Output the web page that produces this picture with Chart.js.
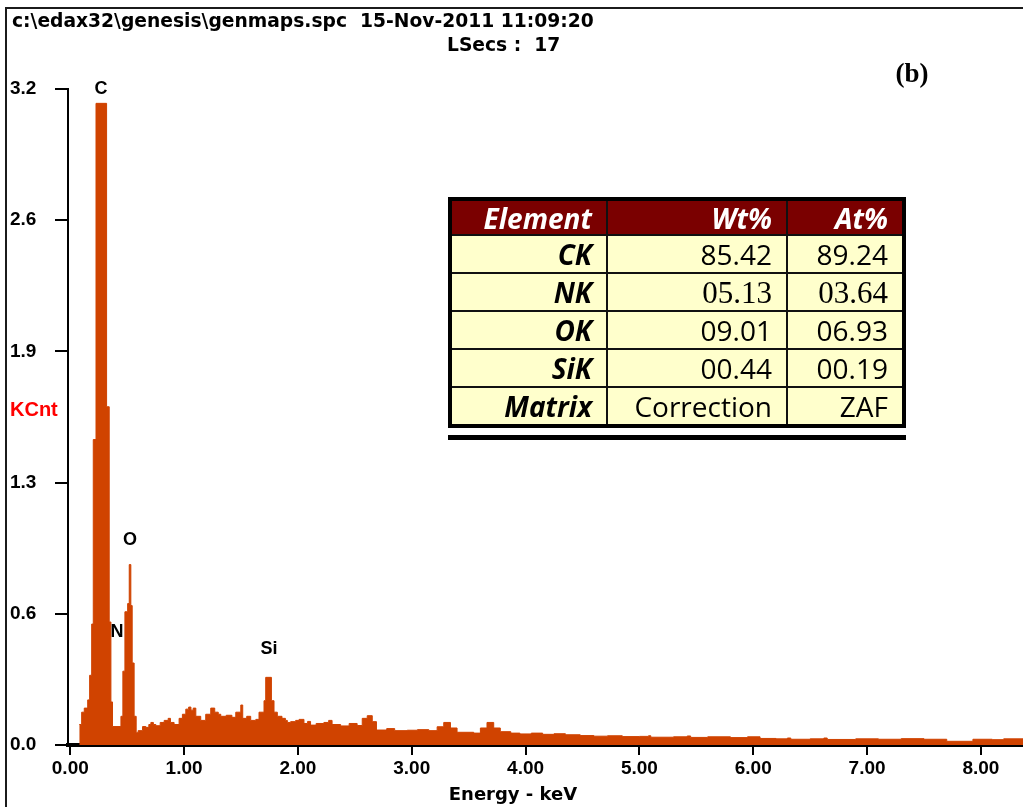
<!DOCTYPE html>
<html>
<head>
<meta charset="utf-8">
<title>EDS spectrum</title>
<script src="https://cdn.jsdelivr.net/npm/chart.js@4.4.1/dist/chart.umd.min.js"></script>
<style>
  html, body { margin: 0; padding: 0; background: #fff; }
  #wrap { position: relative; width: 1023px; height: 807px; overflow: hidden; }
  #spectrum { position: absolute; left: 0; top: 0; }
  #quant {
    position: absolute; left: 448px; top: 197px;
    border-collapse: collapse; border: 4px solid #000;
    font-family: "Open Sans", sans-serif; font-size: 28px; line-height: 1;
  }
  #quant td, #quant th {
    border: 2px solid #111; padding: 0 14px 0 6px; text-align: right;
    height: 36px; background: #ffffcc; color: #000; font-weight: normal;
  }
  #quant th { background: #7a0000; color: #fff; font-weight: bold; font-style: italic; height: 33px; }
  #quant td.name { font-weight: bold; font-style: italic; }
  #quant td.serif { font-family: "Liberation Serif", serif; font-size: 31px; }
  #rule { position: absolute; left: 448px; top: 435px; width: 458px; height: 5px; background: #000; }
</style>
</head>
<body>
<div id="wrap">
  <canvas id="spectrum" width="1023" height="807"></canvas>
  <table id="quant"></table>
  <div id="rule"></div>
</div>
<script>
'use strict';

// channel start energies (keV) and counts (KCnt) of the spectrum
const energy = [
  0.079, 0.100, 0.123, 0.153, 0.170, 0.188, 0.202, 0.226, 0.319, 0.342,
  0.357, 0.371, 0.445, 0.462, 0.480, 0.504, 0.518, 0.532, 0.544, 0.561,
  0.579, 0.596, 0.635, 0.664, 0.690, 0.708, 0.730, 0.752, 0.790, 0.825,
  0.860, 0.880, 0.912, 0.956, 0.985, 1.015, 1.040, 1.060, 1.080, 1.103,
  1.146, 1.190, 1.234, 1.269, 1.300, 1.322, 1.370, 1.420, 1.454, 1.498,
  1.515, 1.550, 1.585, 1.630, 1.658, 1.702, 1.717, 1.767, 1.790, 1.819,
  1.860, 1.890, 1.907, 1.936, 1.980, 2.010, 2.053, 2.085, 2.111, 2.160,
  2.228, 2.270, 2.300, 2.375, 2.450, 2.520, 2.565, 2.609, 2.653, 2.690,
  2.780, 2.850, 2.960, 3.050, 3.150, 3.223, 3.281, 3.340, 3.398, 3.544,
  3.603, 3.661, 3.720, 3.778, 3.870, 3.950, 4.050, 4.150, 4.250, 4.350,
  4.480, 4.600, 4.720, 4.850, 5.000, 5.080, 5.100, 5.300, 5.420, 5.450,
  5.600, 5.800, 5.950, 6.060, 6.200, 6.300, 6.330, 6.500, 6.620, 6.650,
  6.900, 7.100, 7.300, 7.500, 7.700, 7.930, 8.100, 8.200, 8.370
];
const kcnt = [
  0.10, 0.16, 0.18, 0.22, 0.34, 0.59, 1.49, 3.13, 1.65, 0.60,
  0.21, 0.09, 0.14, 0.36, 0.65, 0.69, 0.88, 0.68, 0.40, 0.14,
  0.06, 0.07, 0.09, 0.086, 0.10, 0.11, 0.10, 0.094, 0.11, 0.12,
  0.13, 0.11, 0.10, 0.13, 0.15, 0.175, 0.185, 0.17, 0.18, 0.14,
  0.12, 0.15, 0.18, 0.16, 0.15, 0.14, 0.145, 0.135, 0.16, 0.195,
  0.13, 0.14, 0.12, 0.125, 0.16, 0.216, 0.33, 0.216, 0.16, 0.14,
  0.13, 0.12, 0.11, 0.114, 0.12, 0.125, 0.105, 0.115, 0.097, 0.105,
  0.11, 0.12, 0.10, 0.093, 0.105, 0.095, 0.13, 0.143, 0.114, 0.073,
  0.08, 0.07, 0.072, 0.075, 0.07, 0.089, 0.11, 0.083, 0.062, 0.058,
  0.083, 0.11, 0.083, 0.065, 0.058, 0.054, 0.058, 0.052, 0.055, 0.05,
  0.046, 0.043, 0.045, 0.041, 0.042, 0.045, 0.038, 0.04, 0.044, 0.037,
  0.04, 0.036, 0.04, 0.032, 0.03, 0.034, 0.028, 0.03, 0.034, 0.027,
  0.03, 0.028, 0.031, 0.028, 0.018, 0.028, 0.026, 0.03, 0.03
];

const xTicks = [0, 1, 2, 3, 4, 5, 6, 7, 8];
const yTicks = [0, 0.64, 1.28, 1.92, 2.56, 3.2];

// element lines marked on the spectrum
const peakNames = ['C', 'N', 'O', 'Si'];
const peakEnergy = [0.27, 0.41, 0.524, 1.745];
const peakLabelAt = [3.2, 0.55, 1.0, 0.47];

// quantification table
const tableHead = ['Element', 'Wt%', 'At%'];
const elements = ['CK', 'NK', 'OK', 'SiK', 'Matrix'];
const wtPct = ['85.42', '05.13', '09.01', '00.44', 'Correction'];
const atPct = ['89.24', '03.64', '06.93', '00.19', 'ZAF'];

const fileLine = 'c:\\edax32\\genesis\\genmaps.spc  15-Nov-2011 11:09:20';
const liveLine = 'LSecs :  17';

const orange = '#d04300';
const labelFont = '"Liberation Sans", Arial, sans-serif';

const table = document.getElementById('quant');
const widths = [154, 178, 114];
let html = '<tr>' + tableHead.map((h, i) => '<th style="width:' + (widths[i] - 20) + 'px">' + h + '</th>').join('') + '</tr>';
elements.forEach((el, i) => {
  const cls = el === 'NK' ? ' class="serif"' : '';
  html += '<tr><td class="name">' + el + '</td><td' + cls + '>' + wtPct[i] + '</td><td' + cls + '>' + atPct[i] + '</td></tr>';
});
table.innerHTML = html;

const annotations = {
  id: 'annotations',
  afterDraw(chart) {
    const { ctx, scales: { x, y } } = chart;
    ctx.save();
    ctx.fillStyle = '#1b1b1b';
    ctx.fillRect(5, 7, 1018, 2);
    ctx.fillRect(5, 7, 2, 800);

    ctx.fillStyle = '#000';
    ctx.textBaseline = 'middle';
    ctx.textAlign = 'left';
    ctx.font = 'bold 18.7px "DejaVu Sans"';
    ctx.fillText(fileLine, 12, 22);
    ctx.fillText(liveLine, 447, 46);

    ctx.textAlign = 'center';
    ctx.font = 'bold 18px ' + labelFont;
    peakNames.forEach((name, i) => {
      ctx.fillText(name, x.getPixelForValue(peakEnergy[i]), y.getPixelForValue(peakLabelAt[i]));
    });

    ctx.textAlign = 'left';
    ctx.fillStyle = '#ff0000';
    ctx.font = 'bold 20px ' + labelFont;
    ctx.fillText('KCnt', 10, 410);

    ctx.textAlign = 'center';
    ctx.fillStyle = '#000';
    ctx.font = 'bold 18px "DejaVu Sans"';
    ctx.fillText('Energy - keV', 513, 795);

    ctx.font = 'bold 27px "Liberation Serif"';
    ctx.fillText('(b)', 912, 75);
    ctx.restore();
  }
};

new Chart(document.getElementById('spectrum').getContext('2d'), {
  type: 'line',
  data: {
    datasets: [{
      data: energy.map((e, i) => ({ x: e, y: kcnt[i] })),
      stepped: true,
      fill: 'origin',
      backgroundColor: orange,
      borderColor: orange,
      borderWidth: 1,
      pointRadius: 0,
      tension: 0
    }]
  },
  options: {
    responsive: false,
    animation: false,
    layout: { padding: { top: 89, left: 10, right: 0, bottom: 0 } },
    plugins: { legend: { display: false }, tooltip: { enabled: false } },
    scales: {
      x: {
        type: 'linear',
        min: -0.02,
        max: 8.37,
        afterBuildTicks: axis => { axis.ticks = xTicks.map(v => ({ value: v })); },
        afterFit: axis => { axis.height = 62; },
        ticks: {
          callback: v => v.toFixed(2),
          color: '#000',
          font: { family: 'Liberation Sans', weight: 'bold', size: 19 },
          padding: 2,
          maxRotation: 0,
          autoSkip: false
        },
        grid: { drawOnChartArea: false, drawTicks: true, tickLength: 10, color: '#000', lineWidth: 2 },
        border: { display: true, color: '#000', width: 4 }
      },
      y: {
        min: 0,
        max: 3.2,
        afterBuildTicks: axis => { axis.ticks = yTicks.map(v => ({ value: v })); },
        afterFit: axis => { axis.width = 58; },
        ticks: {
          callback: v => v.toFixed(1),
          color: '#000',
          crossAlign: 'far',
          font: { family: 'Liberation Sans', weight: 'bold', size: 19 }
        },
        grid: { drawOnChartArea: false, drawTicks: true, tickLength: 13, color: '#000', lineWidth: 2 },
        border: { display: true, color: '#000', width: 2 }
      }
    }
  },
  plugins: [annotations]
});
</script>
</body>
</html>
